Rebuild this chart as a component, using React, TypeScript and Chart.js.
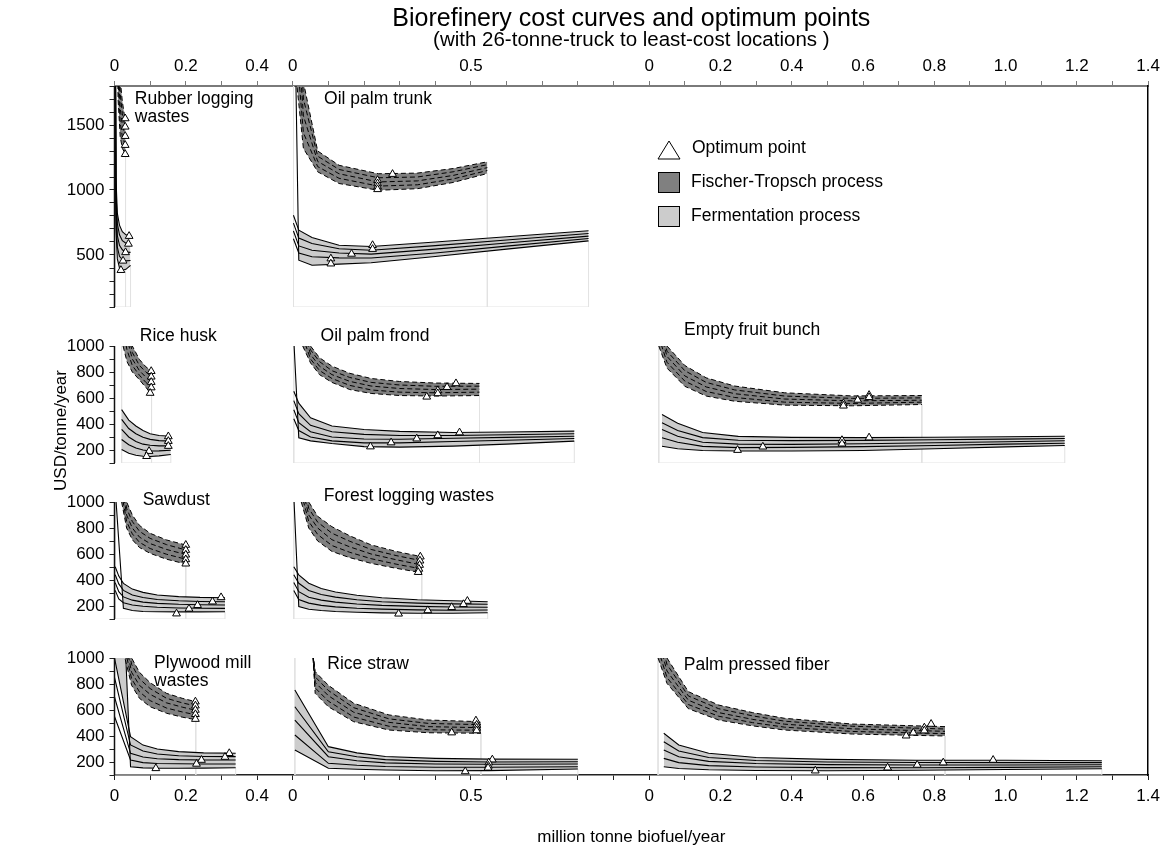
import React, { useEffect, useRef } from 'react';
import { Chart, registerables } from 'chart.js';

// ---------- placement of the panels on the shared axes ----------
const COL_OFFSET = [0, 0.5, 1.5];
const COL_SPAN = [[0, 0.4], [0, 0.9], [0, 1.4]];
const ROW_OFFSET = [3600, 2400, 1200, 0];
const ROW_SPAN = [[100, 1800], [100, 1000], [100, 1000], [100, 1000]];
const X_TICK_LABELS = [[0, 0.2, 0.4], [0, 0.5], [0, 0.2, 0.4, 0.6, 0.8, 1.0, 1.2, 1.4]];
const Y_TICK_LABELS = [
  [500, 1000, 1500],
  [200, 400, 600, 800, 1000],
  [200, 400, 600, 800, 1000],
  [200, 400, 600, 800, 1000],
];

// ---------- panels ----------
const panelNames = [
  ['Rubber logging', 'wastes'],
  ['Oil palm trunk'],
  ['Rice husk'],
  ['Oil palm frond'],
  ['Empty fruit bunch'],
  ['Sawdust'],
  ['Forest logging wastes'],
  ['Plywood mill', 'wastes'],
  ['Rice straw'],
  ['Palm pressed fiber'],
];
const panelCols = [0, 1, 0, 1, 2, 0, 1, 0, 1, 2];
const panelRows = [0, 0, 1, 1, 1, 2, 2, 3, 3, 3];
const labelX = [0.057, 0.088, 0.071, 0.078, 0.098, 0.079, 0.087, 0.111, 0.097, 0.097];
const labelY = [1701, 1696, 1075, 1075, 1119, 1015, 1041, 959, 954, 946];
// whether the steep start of the fermentation band is shaded
const wallFilled = [false, false, false, false, false, false, false, true, false, false];

// ---------- Rubber logging wastes ----------
const rubberFtX = [0.004, 0.01, 0.016, 0.022, 0.027, 0.031];
const rubberFtY = [
  [4000, 2300, 1850, 1680, 1590, 1550],
  [3700, 2150, 1740, 1590, 1520, 1486],
  [3400, 2000, 1630, 1500, 1445, 1414],
  [3100, 1850, 1520, 1410, 1370, 1345],
  [2800, 1700, 1410, 1320, 1295, 1275],
];
const rubberFtOptX = [0.03, 0.03, 0.03, 0.03, 0.03];
const rubberFtOptY = [1550, 1486, 1414, 1345, 1275];
const rubberFeX = [0.001, 0.004, 0.008, 0.014, 0.022, 0.032, 0.045];
const rubberFeY = [
  [3000, 1100, 820, 730, 680, 655, 645],
  [3200, 1000, 740, 655, 610, 590, 585],
  [3400, 900, 650, 575, 540, 522, 520],
  [3600, 800, 560, 490, 465, 455, 458],
  [3800, 700, 470, 400, 383, 390, 420],
];
const rubberFeOptX = [0.041, 0.039, 0.031, 0.024, 0.018];
const rubberFeOptY = [645, 585, 520, 455, 383];

// ---------- Oil palm trunk ----------
const trunkFtX = [0.01, 0.03, 0.07, 0.13, 0.24, 0.35, 0.45, 0.546];
const trunkFtY = [
  [3500, 1830, 1300, 1190, 1125, 1130, 1165, 1217],
  [2900, 1700, 1260, 1158, 1094, 1100, 1140, 1195],
  [2400, 1570, 1220, 1125, 1062, 1070, 1112, 1172],
  [2100, 1440, 1180, 1090, 1030, 1040, 1085, 1150],
  [1850, 1320, 1140, 1050, 998, 1010, 1058, 1127],
];
const trunkFtOptX = [0.28, 0.238, 0.238, 0.238, 0.238];
const trunkFtOptY = [1122, 1075, 1050, 1027, 1005];
const trunkFeX = [0.002, 0.017, 0.054, 0.13, 0.22, 0.4, 0.6, 0.83];
const trunkFeY = [
  [806, 691, 635, 575, 565, 600, 640, 686],
  [745, 630, 588, 548, 537, 572, 615, 665],
  [685, 570, 537, 515, 507, 545, 592, 645],
  [625, 515, 486, 478, 477, 515, 568, 627],
  [3000, 460, 421, 430, 440, 488, 545, 609],
];
const trunkFeOptX = [0.224, 0.224, 0.165, 0.107, 0.107];
const trunkFeOptY = [575, 545, 508, 472, 433];

// ---------- Rice husk ----------
const huskFtX = [0.024, 0.035, 0.05, 0.07, 0.088, 0.104];
const huskFtY = [
  [1500, 1250, 1000, 896, 840, 806],
  [1380, 1150, 950, 850, 800, 763],
  [1260, 1060, 900, 810, 760, 722],
  [1130, 970, 850, 775, 720, 680],
  [1000, 880, 800, 740, 680, 638],
];
const huskFtOptX = [0.103, 0.103, 0.103, 0.103, 0.1];
const huskFtOptY = [806, 763, 722, 680, 638];
const huskFeX = [0.02, 0.04, 0.06, 0.08, 0.1, 0.125, 0.158];
const huskFeY = [
  [511, 430, 385, 350, 325, 312, 306],
  [435, 365, 325, 298, 282, 272, 268],
  [358, 300, 265, 245, 236, 232, 232],
  [281, 240, 215, 200, 192, 193, 198],
  [204, 175, 160, 152, 150, 155, 165],
];
const huskFeOptX = [0.151, 0.151, 0.151, 0.097, 0.09];
const huskFeOptY = [304, 268, 230, 191, 152];

// ---------- Oil palm frond ----------
const frondFtX = [0.028, 0.05, 0.075, 0.11, 0.16, 0.22, 0.3, 0.4, 0.524];
const frondFtY = [
  [1300, 1000, 910, 845, 790, 750, 727, 715, 712],
  [1220, 970, 880, 810, 758, 720, 700, 690, 691],
  [1150, 935, 845, 780, 728, 692, 673, 665, 668],
  [1070, 900, 812, 750, 697, 662, 645, 640, 645],
  [1000, 870, 780, 720, 665, 635, 619, 615, 619],
];
const frondFtOptX = [0.458, 0.433, 0.407, 0.407, 0.376];
const frondFtOptY = [712, 683, 658, 635, 609];
const frondFeX = [0.003, 0.017, 0.05, 0.11, 0.2, 0.3, 0.45, 0.6, 0.79];
const frondFeY = [
  [652, 560, 448, 385, 358, 343, 335, 338, 345],
  [580, 480, 390, 340, 320, 312, 312, 317, 325],
  [510, 410, 340, 300, 285, 283, 290, 297, 306],
  [440, 350, 300, 270, 255, 255, 265, 275, 288],
  [1050, 294, 270, 250, 226, 222, 230, 245, 268],
];
const frondFeOptX = [0.468, 0.407, 0.348, 0.276, 0.218];
const frondFeOptY = [334, 312, 287, 257, 226];

// ---------- Empty fruit bunch ----------
const efbFtX = [0.027, 0.05, 0.1, 0.16, 0.24, 0.38, 0.57, 0.765];
const efbFtY = [
  [1300, 1000, 850, 755, 692, 640, 616, 619],
  [1220, 960, 810, 720, 662, 615, 597, 601],
  [1150, 920, 770, 685, 633, 592, 578, 583],
  [1070, 875, 730, 650, 604, 568, 558, 568],
  [1000, 830, 690, 615, 575, 545, 540, 550],
];
const efbFtOptX = [0.617, 0.617, 0.585, 0.545, 0.545];
const efbFtOptY = [622, 605, 585, 558, 540];
const efbFeX = [0.036, 0.08, 0.15, 0.25, 0.4, 0.6, 0.8, 1.0, 1.166];
const efbFeY = [
  [473, 405, 335, 305, 297, 295, 298, 302, 306],
  [409, 350, 295, 275, 272, 274, 279, 284, 288],
  [358, 305, 260, 245, 243, 248, 256, 264, 271],
  [294, 260, 228, 218, 220, 226, 235, 245, 252],
  [229, 210, 196, 192, 192, 196, 210, 224, 235],
];
const efbFeOptX = [0.617, 0.541, 0.541, 0.319, 0.248];
const efbFeOptY = [295, 275, 248, 225, 199];

// ---------- Sawdust ----------
const sawFtX = [0.02, 0.034, 0.05, 0.07, 0.1, 0.146, 0.2];
const sawFtY = [
  [1300, 1000, 900, 820, 759, 708, 669],
  [1220, 950, 850, 775, 720, 672, 631],
  [1150, 900, 800, 730, 680, 635, 596],
  [1070, 850, 755, 690, 642, 598, 560],
  [1000, 800, 710, 650, 605, 560, 523],
];
const sawFtOptX = [0.2, 0.2, 0.2, 0.2, 0.2];
const sawFtOptY = [669, 630, 594, 558, 525];
const sawFeX = [0.002, 0.012, 0.025, 0.05, 0.08, 0.12, 0.18, 0.24, 0.31];
const sawFeY = [
  [502, 430, 374, 330, 305, 285, 272, 266, 264],
  [440, 370, 320, 285, 265, 250, 240, 235, 233],
  [380, 310, 270, 245, 230, 220, 213, 210, 208],
  [320, 255, 225, 208, 198, 190, 185, 183, 182],
  [1100, 700, 182, 165, 158, 156, 155, 155, 156],
];
const sawFeOptX = [0.299, 0.275, 0.233, 0.209, 0.174];
const sawFeOptY = [266, 233, 206, 178, 141];

// ---------- Forest logging wastes ----------
const forestFtX = [0.024, 0.045, 0.07, 0.11, 0.16, 0.22, 0.29, 0.362];
const forestFtY = [
  [1300, 1000, 890, 810, 740, 670, 620, 579],
  [1220, 950, 845, 760, 698, 635, 588, 548],
  [1140, 900, 800, 710, 655, 600, 556, 515],
  [1070, 850, 750, 665, 613, 564, 522, 485],
  [1000, 800, 700, 620, 572, 528, 490, 456],
];
const forestFtOptX = [0.358, 0.357, 0.356, 0.354, 0.352];
const forestFtOptY = [579, 548, 515, 485, 460];
const forestFeX = [0.003, 0.017, 0.045, 0.08, 0.12, 0.18, 0.25, 0.35, 0.45, 0.547];
const forestFeY = [
  [502, 440, 375, 335, 308, 283, 263, 248, 240, 233],
  [440, 375, 320, 288, 268, 248, 233, 222, 216, 213],
  [380, 310, 268, 245, 230, 215, 205, 197, 192, 190],
  [320, 250, 222, 205, 193, 183, 176, 170, 167, 169],
  [1050, 195, 175, 165, 158, 152, 147, 144, 144, 148],
];
const forestFeOptX = [0.49, 0.479, 0.446, 0.379, 0.297];
const forestFeOptY = [238, 213, 190, 166, 140];

// ---------- Plywood mill wastes ----------
const plyFtX = [0.03, 0.048, 0.07, 0.1, 0.146, 0.19, 0.228];
const plyFtY = [
  [1300, 1000, 890, 810, 728, 690, 664],
  [1220, 950, 840, 765, 690, 655, 631],
  [1140, 890, 790, 720, 655, 622, 598],
  [1060, 840, 740, 672, 615, 585, 563],
  [990, 790, 690, 625, 575, 545, 525],
];
const plyFtOptX = [0.227, 0.227, 0.227, 0.227, 0.227];
const plyFtOptY = [664, 633, 600, 567, 530];
const plyFeX = [0.0, 0.045, 0.08, 0.12, 0.18, 0.25, 0.34];
const plyFeY = [
  [1000, 395, 330, 300, 280, 270, 267],
  [850, 331, 285, 262, 248, 242, 241],
  [700, 267, 238, 225, 218, 215, 215],
  [550, 215, 195, 188, 186, 185, 185],
  [3000, 164, 155, 152, 152, 153, 156],
];
const plyFeOptX = [0.322, 0.31, 0.244, 0.23, 0.116];
const plyFeOptY = [267, 238, 215, 185, 151];

// ---------- Rice straw ----------
const strawFtX = [0.057, 0.063, 0.1, 0.171, 0.27, 0.38, 0.528];
const strawFtY = [
  [1040, 895, 790, 652, 562, 523, 510],
  [1030, 855, 750, 618, 532, 497, 487],
  [1020, 812, 710, 583, 505, 472, 464],
  [1010, 770, 668, 546, 475, 448, 444],
  [1000, 728, 625, 510, 446, 425, 421],
];
const strawFtOptX = [0.514, 0.516, 0.516, 0.516, 0.446];
const strawFtOptY = [518, 485, 462, 442, 426];
const strawFeX = [0.006, 0.1, 0.18, 0.26, 0.4, 0.55, 0.8];
const strawFeY = [
  [754, 318, 270, 242, 228, 222, 221],
  [625, 279, 240, 218, 205, 200, 202],
  [523, 241, 210, 193, 185, 183, 185],
  [408, 190, 175, 165, 160, 160, 164],
  [292, 152, 144, 138, 133, 134, 146],
];
const strawFeOptX = [0.56, 0.55, 0.549, 0.548, 0.484];
const strawFeOptY = [218, 195, 170, 155, 127];

// ---------- Palm pressed fiber ----------
const ppfFtX = [0.025, 0.05, 0.11, 0.195, 0.29, 0.38, 0.57, 0.83];
const ppfFtY = [
  [1300, 1000, 741, 638, 580, 536, 492, 472],
  [1220, 950, 708, 610, 555, 514, 475, 454],
  [1150, 900, 675, 580, 528, 491, 455, 436],
  [1070, 850, 642, 552, 503, 468, 435, 418],
  [1000, 805, 610, 523, 478, 446, 415, 400],
];
const ppfFtOptX = [0.791, 0.772, 0.772, 0.741, 0.721];
const ppfFtOptY = [492, 464, 441, 425, 402];
const ppfFeX = [0.041, 0.083, 0.167, 0.3, 0.5, 0.75, 1.0, 1.27];
const ppfFeY = [
  [421, 331, 267, 235, 220, 214, 213, 210],
  [356, 285, 235, 212, 200, 196, 195, 195],
  [292, 240, 205, 188, 180, 177, 177, 179],
  [228, 195, 172, 162, 157, 156, 159, 164],
  [164, 150, 140, 135, 133, 136, 142, 148],
];
const ppfFeOptX = [0.965, 0.825, 0.752, 0.669, 0.466];
const ppfFeOptY = [215, 195, 177, 156, 133];

// ---------- table built from the arrays ----------
const bandsFt = [
  [rubberFtX, rubberFtY, rubberFtOptX, rubberFtOptY],
  [trunkFtX, trunkFtY, trunkFtOptX, trunkFtOptY],
  [huskFtX, huskFtY, huskFtOptX, huskFtOptY],
  [frondFtX, frondFtY, frondFtOptX, frondFtOptY],
  [efbFtX, efbFtY, efbFtOptX, efbFtOptY],
  [sawFtX, sawFtY, sawFtOptX, sawFtOptY],
  [forestFtX, forestFtY, forestFtOptX, forestFtOptY],
  [plyFtX, plyFtY, plyFtOptX, plyFtOptY],
  [strawFtX, strawFtY, strawFtOptX, strawFtOptY],
  [ppfFtX, ppfFtY, ppfFtOptX, ppfFtOptY],
];
const bandsFe = [
  [rubberFeX, rubberFeY, rubberFeOptX, rubberFeOptY],
  [trunkFeX, trunkFeY, trunkFeOptX, trunkFeOptY],
  [huskFeX, huskFeY, huskFeOptX, huskFeOptY],
  [frondFeX, frondFeY, frondFeOptX, frondFeOptY],
  [efbFeX, efbFeY, efbFeOptX, efbFeOptY],
  [sawFeX, sawFeY, sawFeOptX, sawFeOptY],
  [forestFeX, forestFeY, forestFeOptX, forestFeOptY],
  [plyFeX, plyFeY, plyFeOptX, plyFeOptY],
  [strawFeX, strawFeY, strawFeOptX, strawFeOptY],
  [ppfFeX, ppfFeY, ppfFeOptX, ppfFeOptY],
];

const FT_FILL = '#808080';
const FE_FILL = '#cccccc';
const FRAME = '#e2e2e2';
const NONE = 'rgba(0,0,0,0)';
const FONT = '"Liberation Sans", Arial, Helvetica, sans-serif';

function buildDatasets() {
  const ds: any[] = [];
  panelNames.forEach((_, pi) => {
    const c = panelCols[pi];
    const r = panelRows[pi];
    const gx = (v: number) => v + COL_OFFSET[c];
    const gy = (v: number) => v + ROW_OFFSET[r];
    const ft: any = bandsFt[pi];
    const fe: any = bandsFe[pi];
    // optimum points
    [ft, fe].forEach((b: any) => {
      ds.push({
        xAxisID: 'x', yAxisID: 'y',
        showLine: false, fill: false, order: 0,
        data: b[2].map((x: number, i: number) => ({ x: gx(x), y: gy(b[3][i]) })),
        pointStyle: 'triangle', pointRadius: 4.5,
        pointBackgroundColor: '#ffffff', pointBorderColor: '#000000', pointBorderWidth: 1,
      });
    });
    // bands
    const addBand = (b: any, color: string, dash: number[], wall: boolean) => {
      const first = ds.length;
      const n = b[1].length;
      b[1].forEach((ys: number[], k: number) => {
        const last = k === n - 1;
        const item: any = {
          xAxisID: 'x', yAxisID: 'y', panel: pi, order: 1,
          data: b[0].map((x: number, i: number) => ({ x: gx(x), y: gy(ys[i]) })),
          borderColor: '#000000', borderWidth: dash.length ? 1 : 1.1, borderDash: dash,
          pointRadius: 0,
          fill: last ? { target: first, above: wall ? color : NONE, below: color } : false,
        };
        if (last) item.backgroundColor = color;
        ds.push(item);
      });
    };
    addBand(ft, FT_FILL, [5, 3], true);
    addBand(fe, FE_FILL, [], wallFilled[pi]);
    // faint extent frame of each panel
    const x0 = Math.min(ft[0][0], fe[0][0]);
    const feEnd = fe[0][fe[0].length - 1];
    const feLow = fe[1][fe[1].length - 1][fe[0].length - 1];
    const ftEnd = ft[0][ft[0].length - 1];
    const ftLow = ft[1][ft[1].length - 1][ft[0].length - 1];
    const yMin = ROW_SPAN[r][0];
    const yMax = ROW_SPAN[r][1];
    ds.push({
      xAxisID: 'x', yAxisID: 'y', panel: pi, order: 2, fill: false, pointRadius: 0,
      borderColor: FRAME, borderWidth: 1,
      data: [
        { x: gx(x0), y: gy(yMax) }, { x: gx(x0), y: gy(yMin) },
        { x: gx(feEnd), y: gy(yMin) }, { x: gx(feEnd), y: gy(feLow) },
      ],
    });
    ds.push({
      xAxisID: 'x', yAxisID: 'y', panel: pi, order: 2, fill: false, pointRadius: 0,
      borderColor: FRAME, borderWidth: 1,
      data: [{ x: gx(ftEnd), y: gy(ftLow) }, { x: gx(ftEnd), y: gy(yMin) }],
    });
  });
  return ds;
}

function panelBox(chart: any, pi: number) {
  const c = panelCols[pi];
  const r = panelRows[pi];
  const xs = chart.scales.x;
  const ys = chart.scales.y;
  const left = xs.getPixelForValue(COL_OFFSET[c] + COL_SPAN[c][0]);
  const right = xs.getPixelForValue(COL_OFFSET[c] + COL_SPAN[c][1]);
  const top = ys.getPixelForValue(ROW_OFFSET[r] + ROW_SPAN[r][1]);
  const bottom = ys.getPixelForValue(ROW_OFFSET[r] + ROW_SPAN[r][0]);
  return { left, right, top, bottom };
}

// clips every band to its own panel (registered before Filler so fills are clipped too)
const panelClip = {
  id: 'panelClip',
  beforeDatasetDraw(chart: any, args: any) {
    const d: any = chart.data.datasets[args.index];
    if (d.panel == null) return;
    const b = panelBox(chart, d.panel);
    const ctx = chart.ctx;
    ctx.save();
    ctx.beginPath();
    ctx.rect(b.left, b.top, b.right - b.left, b.bottom - b.top);
    ctx.clip();
  },
  afterDatasetDraw(chart: any, args: any) {
    const d: any = chart.data.datasets[args.index];
    if (d.panel == null) return;
    chart.ctx.restore();
  },
};

const decorations = {
  id: 'decorations',
  afterDatasetsDraw(chart: any) {
    const ctx = chart.ctx;
    const xs = chart.scales.x;
    const ys = chart.scales.y;
    const ca = chart.chartArea;
    ctx.save();
    // left axis, one segment per row
    ctx.strokeStyle = '#111111';
    ctx.lineWidth = 1.5;
    ROW_SPAN.forEach((s, r) => {
      ctx.beginPath();
      ctx.moveTo(ca.left, ys.getPixelForValue(ROW_OFFSET[r] + s[0]));
      ctx.lineTo(ca.left, ys.getPixelForValue(ROW_OFFSET[r] + s[1]));
      ctx.stroke();
    });
    // panel names
    ctx.fillStyle = '#000000';
    ctx.font = `17.5px ${FONT}`;
    ctx.textAlign = 'left';
    ctx.textBaseline = 'middle';
    panelNames.forEach((lines, pi) => {
      const px = xs.getPixelForValue(labelX[pi] + COL_OFFSET[panelCols[pi]]);
      const py = ys.getPixelForValue(labelY[pi] + ROW_OFFSET[panelRows[pi]]);
      lines.forEach((t, k) => ctx.fillText(t, px, py + k * 18));
    });
    // legend
    const lx = ca.left + 543.5;
    const ly = ca.top;
    ctx.lineWidth = 1;
    ctx.strokeStyle = '#000000';
    ctx.beginPath();
    ctx.moveTo(lx + 11, ly + 55);
    ctx.lineTo(lx + 22, ly + 73);
    ctx.lineTo(lx, ly + 73);
    ctx.closePath();
    ctx.fillStyle = '#ffffff';
    ctx.fill();
    ctx.stroke();
    ctx.fillStyle = FT_FILL;
    ctx.fillRect(lx, ly + 86, 22, 21);
    ctx.strokeRect(lx + 0.5, ly + 86.5, 21, 20);
    ctx.fillStyle = FE_FILL;
    ctx.fillRect(lx, ly + 120, 22, 21);
    ctx.strokeRect(lx + 0.5, ly + 120.5, 21, 20);
    ctx.fillStyle = '#000000';
    ctx.fillText('Optimum point', lx + 34, ly + 62);
    ctx.fillText('Fischer-Tropsch process', lx + 33, ly + 96);
    ctx.fillText('Fermentation process', lx + 33, ly + 130);
    ctx.restore();
  },
};

Chart.register(panelClip);
Chart.register(...registerables);
Chart.defaults.font.family = FONT;
Chart.defaults.color = '#000000';

function xLabel(v: number) {
  const g = Math.round(v * 10) / 10;
  for (let c = 0; c < 3; c++) {
    const local = Math.round((g - COL_OFFSET[c]) * 10) / 10;
    if (X_TICK_LABELS[c].some((t) => Math.abs(t - local) < 1e-6)) {
      return local === 0 ? '0' : local.toFixed(1);
    }
  }
  return '';
}

function rowOf(g: number) {
  for (let r = 0; r < 4; r++) {
    const local = g - ROW_OFFSET[r];
    if (local >= ROW_SPAN[r][0] - 1e-6 && local <= ROW_SPAN[r][1] + 1e-6) return r;
  }
  return -1;
}

function yLabel(v: number) {
  const g = Math.round(v);
  const r = rowOf(g);
  if (r < 0) return '';
  const local = g - ROW_OFFSET[r];
  return Y_TICK_LABELS[r].includes(local) ? String(local) : '';
}

function xAxis(position: string, height: number, pad: number, withTitle: boolean, color: string, bw: number) {
  return {
    type: 'linear',
    position,
    min: 0,
    max: 2.9,
    afterFit: (s: any) => { s.height = height; },
    border: { display: true, color, width: bw },
    grid: { drawOnChartArea: false, drawTicks: true, tickLength: 5, tickColor: color, tickWidth: 1 },
    ticks: {
      stepSize: 0.1, autoSkip: false, maxRotation: 0, minRotation: 0, padding: pad,
      color: '#000000', font: { size: 17 }, callback: (v: any) => xLabel(Number(v)),
    },
    title: {
      display: withTitle, text: 'million tonne biofuel/year', color: '#000000',
      font: { size: 17 }, padding: { top: 0, bottom: 0 },
    },
  };
}

export default function App() {
  const ref = useRef<HTMLCanvasElement>(null);
  useEffect(() => {
    const chart = new Chart(ref.current as HTMLCanvasElement, {
      type: 'line',
      data: { datasets: buildDatasets() },
      plugins: [decorations],
      options: {
        animation: false,
        responsive: false,
        devicePixelRatio: 1,
        events: [],
        layout: { padding: { left: 50.5, right: 15, top: 0, bottom: 1 } },
        plugins: {
          legend: { display: false },
          tooltip: { enabled: false },
          title: {
            display: true, fullSize: false,
            text: 'Biorefinery cost curves and optimum points',
            color: '#000000', font: { size: 25, weight: 'normal', lineHeight: 1 },
            padding: { top: 7, bottom: 0 },
          },
          subtitle: {
            display: true, fullSize: false,
            text: '(with 26-tonne-truck to least-cost locations )',
            color: '#000000', font: { size: 20.5, weight: 'normal', lineHeight: 0.8 },
            padding: { top: 0, bottom: 0 },
          },
        },
        scales: {
          x: xAxis('bottom', 73, 6, true, '#222222', 1.5),
          xTop: xAxis('top', 37.6, 4, false, '#7a7a7a', 2),
          y: {
            type: 'linear',
            position: 'left',
            min: 100,
            max: 5400,
            afterFit: (s: any) => { s.width = 64; },
            border: { display: false },
            grid: {
              drawOnChartArea: false, drawTicks: true, tickLength: 5, tickWidth: 1,
              tickColor: (ctx: any) => (ctx.tick && rowOf(Math.round(ctx.tick.value)) >= 0 ? '#222222' : NONE),
            },
            ticks: {
              stepSize: 100, autoSkip: false, padding: 5, color: '#000000',
              font: { size: 17 }, callback: (v: any) => yLabel(Number(v)),
            },
            title: {
              display: true, text: 'USD/tonne/year', color: '#000000',
              font: { size: 17 }, padding: { top: 1, bottom: 0 },
            },
          },
          yRight: {
            type: 'linear',
            position: 'right',
            min: 100,
            max: 5400,
            afterFit: (s: any) => { s.width = 1; },
            border: { display: true, color: '#000000', width: 1.5 },
            grid: { display: false, drawTicks: false },
            ticks: { display: false },
          },
        },
      } as any,
    } as any);
    return () => chart.destroy();
  }, []);
  return (
    <div style={{ position: 'fixed', left: 0, top: 0, width: 1166, height: 849, background: '#ffffff' }}>
      <canvas ref={ref} width={1166} height={849} style={{ display: 'block' }} />
    </div>
  );
}
